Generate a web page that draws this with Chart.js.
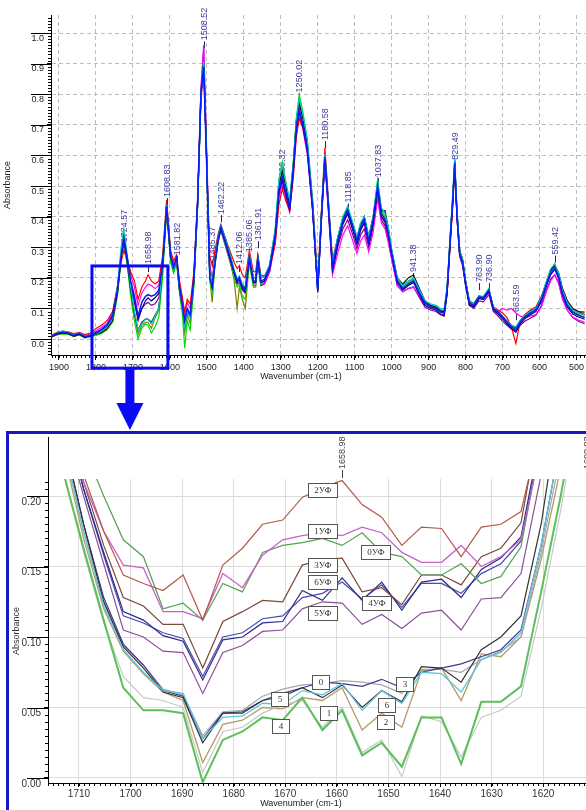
<!DOCTYPE html>
<html>
<head>
<meta charset="utf-8">
<title>FTIR spectra</title>
<script src="https://cdn.jsdelivr.net/npm/chart.js@4.4.1/dist/chart.umd.min.js"></script>
<style>
  body { margin: 0; background: #fff; width: 586px; height: 810px; overflow: hidden; position: relative; }
  #fullWrap { position: absolute; left: 0; top: 0; width: 586px; height: 432px; }
  #zoomBox { position: absolute; left: 6px; top: 431px; width: 600px; height: 400px; border: 3px solid #1818c0; }
  #zoomWrap { position: absolute; left: 0; top: 0; width: 577px; height: 376px; }
</style>
</head>
<body>
<div id="fullWrap"><canvas id="fullChart" width="586" height="432"></canvas></div>
<div id="zoomBox"><div id="zoomWrap"><canvas id="zoomChart" width="577" height="376"></canvas></div></div>
<script>
/* ===== FULL RANGE SPECTRA ===== */
const wavenumbers = [
  1922, 1905, 1890, 1875, 1860, 1845, 1830, 1815, 1800, 1785, 1770, 1755,
  1742, 1732, 1724.6, 1716, 1706, 1696, 1686, 1676, 1666, 1659, 1650, 1640,
  1630, 1620, 1608.8, 1598, 1590, 1581.8, 1574, 1566, 1560, 1553, 1545, 1535,
  1525, 1516, 1508.5, 1500, 1492, 1485.4, 1478, 1470, 1462.2, 1450, 1438, 1426,
  1418, 1412, 1404, 1396, 1385, 1374, 1368, 1362, 1354, 1344, 1330, 1315,
  1305, 1296, 1286, 1276, 1266, 1258, 1250, 1240, 1228, 1214, 1200, 1190,
  1180.6, 1172, 1160, 1146, 1132, 1119, 1105, 1094, 1084, 1074, 1062, 1050,
  1038, 1028, 1018, 1010, 1000, 985, 970, 955, 941, 925, 910, 895,
  880, 868, 858, 850, 842, 835, 829.5, 823, 816, 808, 800, 790,
  778, 764, 752, 737, 725, 712, 700, 688, 676, 664, 652, 640,
  625, 610, 595, 580, 570, 559, 548, 538, 525, 510, 495, 478
];

const specBlue = [
  0.008, 0.018, 0.022, 0.020, 0.012, 0.018, 0.008, 0.012, 0.020, 0.030, 0.045, 0.075,
  0.16, 0.27, 0.33, 0.27, 0.19, 0.14, 0.075, 0.12, 0.14, 0.145, 0.14, 0.145,
  0.16, 0.24, 0.435, 0.27, 0.235, 0.265, 0.17, 0.11, 0.06, 0.10, 0.08, 0.20,
  0.45, 0.80, 0.89, 0.55, 0.20, 0.17, 0.25, 0.32, 0.365, 0.32, 0.27, 0.22,
  0.19, 0.20, 0.17, 0.16, 0.265, 0.19, 0.19, 0.262, 0.19, 0.195, 0.235, 0.34,
  0.49, 0.53, 0.48, 0.43, 0.56, 0.69, 0.75, 0.70, 0.62, 0.43, 0.16, 0.40,
  0.595, 0.45, 0.235, 0.32, 0.385, 0.42, 0.365, 0.32, 0.365, 0.39, 0.32, 0.39,
  0.50, 0.41, 0.39, 0.35, 0.28, 0.19, 0.165, 0.18, 0.19, 0.15, 0.118, 0.105,
  0.10, 0.088, 0.085, 0.16, 0.32, 0.45, 0.575, 0.40, 0.28, 0.25, 0.183, 0.118,
  0.11, 0.137, 0.134, 0.16, 0.10, 0.088, 0.072, 0.056, 0.04, 0.03, 0.056, 0.072,
  0.085, 0.095, 0.127, 0.183, 0.215, 0.232, 0.203, 0.15, 0.11, 0.088, 0.078, 0.07
];
const specRed = [
  0.012, 0.022, 0.026, 0.024, 0.018, 0.022, 0.015, 0.020, 0.035, 0.045, 0.060, 0.09,
  0.17, 0.25, 0.29, 0.26, 0.22, 0.19, 0.13, 0.17, 0.19, 0.21, 0.19, 0.18,
  0.19, 0.27, 0.455, 0.29, 0.255, 0.275, 0.19, 0.135, 0.09, 0.13, 0.115, 0.22,
  0.45, 0.78, 0.88, 0.56, 0.27, 0.24, 0.29, 0.34, 0.375, 0.33, 0.29, 0.25,
  0.23, 0.24, 0.21, 0.20, 0.29, 0.22, 0.22, 0.275, 0.21, 0.205, 0.23, 0.31,
  0.44, 0.49, 0.45, 0.42, 0.53, 0.66, 0.72, 0.69, 0.62, 0.46, 0.19, 0.42,
  0.625, 0.47, 0.26, 0.33, 0.38, 0.41, 0.36, 0.32, 0.36, 0.38, 0.32, 0.38,
  0.49, 0.40, 0.38, 0.34, 0.28, 0.20, 0.175, 0.19, 0.195, 0.155, 0.125, 0.11,
  0.10, 0.09, 0.085, 0.15, 0.30, 0.43, 0.55, 0.40, 0.29, 0.26, 0.19, 0.125,
  0.115, 0.14, 0.137, 0.155, 0.105, 0.095, 0.085, 0.07, 0.04, -0.015, 0.06, 0.08,
  0.095, 0.105, 0.14, 0.19, 0.225, 0.245, 0.21, 0.165, 0.125, 0.10, 0.09, 0.08
];
const specMagenta = [
  0.010, 0.020, 0.024, 0.020, 0.014, 0.020, 0.012, 0.016, 0.028, 0.038, 0.052, 0.085,
  0.17, 0.28, 0.32, 0.27, 0.21, 0.17, 0.11, 0.15, 0.17, 0.18, 0.175, 0.165,
  0.175, 0.25, 0.43, 0.28, 0.245, 0.27, 0.18, 0.125, 0.08, 0.12, 0.10, 0.21,
  0.46, 0.82, 0.96, 0.60, 0.24, 0.20, 0.27, 0.33, 0.36, 0.31, 0.26, 0.21,
  0.19, 0.195, 0.17, 0.16, 0.26, 0.185, 0.185, 0.255, 0.18, 0.185, 0.22, 0.32,
  0.46, 0.51, 0.46, 0.415, 0.54, 0.67, 0.73, 0.685, 0.60, 0.42, 0.17, 0.39,
  0.58, 0.43, 0.21, 0.28, 0.34, 0.37, 0.32, 0.28, 0.32, 0.34, 0.285, 0.35,
  0.46, 0.38, 0.36, 0.32, 0.26, 0.175, 0.155, 0.165, 0.17, 0.14, 0.115, 0.105,
  0.10, 0.095, 0.09, 0.15, 0.31, 0.44, 0.565, 0.39, 0.27, 0.24, 0.175, 0.12,
  0.115, 0.135, 0.13, 0.15, 0.10, 0.09, 0.10, 0.095, 0.10, 0.085, 0.075, 0.07,
  0.075, 0.08, 0.105, 0.16, 0.19, 0.21, 0.18, 0.13, 0.095, 0.072, 0.062, 0.055
];
const specLime = [
  0.005, 0.015, 0.018, 0.016, 0.010, 0.014, 0.004, 0.008, 0.012, 0.018, 0.030, 0.055,
  0.14, 0.26, 0.33, 0.25, 0.14, 0.06, 0.0, 0.035, 0.05, 0.045, 0.02, 0.04,
  0.07, 0.20, 0.42, 0.25, 0.215, 0.25, 0.15, 0.08, -0.03, 0.06, 0.03, 0.17,
  0.43, 0.79, 0.90, 0.56, 0.19, 0.15, 0.24, 0.31, 0.36, 0.31, 0.26, 0.20,
  0.17, 0.18, 0.14, 0.13, 0.25, 0.175, 0.175, 0.25, 0.18, 0.19, 0.24, 0.36,
  0.52, 0.58, 0.51, 0.45, 0.58, 0.72, 0.80, 0.74, 0.65, 0.45, 0.17, 0.41,
  0.60, 0.46, 0.245, 0.33, 0.40, 0.43, 0.375, 0.33, 0.375, 0.40, 0.33, 0.40,
  0.52, 0.42, 0.40, 0.36, 0.29, 0.195, 0.17, 0.185, 0.195, 0.155, 0.12, 0.11,
  0.105, 0.095, 0.095, 0.17, 0.33, 0.46, 0.58, 0.41, 0.285, 0.255, 0.185, 0.12,
  0.11, 0.14, 0.137, 0.165, 0.10, 0.085, 0.07, 0.055, 0.042, 0.035, 0.06, 0.075,
  0.085, 0.095, 0.13, 0.19, 0.22, 0.24, 0.21, 0.155, 0.115, 0.09, 0.08, 0.072
];
const specBlack = [
  0.006, 0.016, 0.020, 0.018, 0.010, 0.015, 0.006, 0.010, 0.016, 0.022, 0.034, 0.06,
  0.15, 0.27, 0.34, 0.26, 0.16, 0.085, 0.03, 0.055, 0.065, 0.065, 0.055, 0.078,
  0.10, 0.23, 0.44, 0.27, 0.225, 0.26, 0.165, 0.10, 0.045, 0.09, 0.07, 0.19,
  0.44, 0.80, 0.91, 0.57, 0.21, 0.18, 0.26, 0.33, 0.37, 0.33, 0.28, 0.22,
  0.195, 0.205, 0.175, 0.165, 0.27, 0.20, 0.20, 0.27, 0.20, 0.205, 0.24, 0.35,
  0.50, 0.55, 0.50, 0.44, 0.57, 0.71, 0.77, 0.72, 0.63, 0.44, 0.16, 0.41,
  0.60, 0.455, 0.24, 0.33, 0.395, 0.425, 0.375, 0.33, 0.375, 0.40, 0.335, 0.40,
  0.50, 0.42, 0.42, 0.37, 0.29, 0.20, 0.18, 0.20, 0.21, 0.165, 0.125, 0.11,
  0.105, 0.092, 0.09, 0.16, 0.32, 0.45, 0.57, 0.41, 0.29, 0.26, 0.19, 0.125,
  0.115, 0.14, 0.138, 0.16, 0.105, 0.09, 0.075, 0.058, 0.045, 0.038, 0.06, 0.078,
  0.09, 0.10, 0.135, 0.19, 0.225, 0.24, 0.215, 0.165, 0.125, 0.10, 0.09, 0.088
];
const specPurple = [
  0.008, 0.016, 0.020, 0.018, 0.010, 0.016, 0.006, 0.010, 0.018, 0.026, 0.04, 0.07,
  0.15, 0.26, 0.31, 0.25, 0.17, 0.12, 0.06, 0.10, 0.115, 0.12, 0.11, 0.115,
  0.135, 0.22, 0.42, 0.26, 0.225, 0.255, 0.16, 0.10, 0.065, 0.095, 0.075, 0.19,
  0.44, 0.81, 0.95, 0.58, 0.20, 0.165, 0.245, 0.315, 0.355, 0.305, 0.255, 0.205,
  0.18, 0.185, 0.16, 0.15, 0.255, 0.18, 0.18, 0.25, 0.175, 0.18, 0.22, 0.325,
  0.47, 0.515, 0.465, 0.42, 0.55, 0.68, 0.74, 0.69, 0.61, 0.42, 0.16, 0.39,
  0.585, 0.44, 0.22, 0.30, 0.36, 0.39, 0.34, 0.295, 0.34, 0.36, 0.30, 0.365,
  0.47, 0.39, 0.37, 0.33, 0.265, 0.175, 0.155, 0.165, 0.17, 0.135, 0.105, 0.095,
  0.09, 0.08, 0.075, 0.145, 0.31, 0.44, 0.56, 0.39, 0.27, 0.24, 0.175, 0.11,
  0.10, 0.125, 0.122, 0.145, 0.09, 0.075, 0.058, 0.045, 0.032, 0.028, 0.045, 0.058,
  0.068, 0.078, 0.11, 0.165, 0.195, 0.21, 0.185, 0.135, 0.095, 0.07, 0.058, 0.05
];
const specCyan = [
  0.010, 0.020, 0.026, 0.022, 0.014, 0.020, 0.010, 0.014, 0.018, 0.026, 0.040, 0.07,
  0.17, 0.30, 0.36, 0.28, 0.17, 0.09, 0.03, 0.05, 0.065, 0.065, 0.05, 0.075,
  0.10, 0.24, 0.44, 0.27, 0.225, 0.26, 0.165, 0.10, 0.04, 0.09, 0.07, 0.19,
  0.44, 0.80, 0.91, 0.57, 0.21, 0.18, 0.26, 0.33, 0.37, 0.33, 0.28, 0.225,
  0.195, 0.205, 0.18, 0.17, 0.275, 0.20, 0.20, 0.27, 0.20, 0.205, 0.245, 0.36,
  0.52, 0.57, 0.51, 0.455, 0.58, 0.72, 0.79, 0.735, 0.65, 0.45, 0.17, 0.41,
  0.605, 0.46, 0.245, 0.335, 0.40, 0.435, 0.38, 0.335, 0.38, 0.40, 0.335, 0.40,
  0.52, 0.43, 0.41, 0.37, 0.295, 0.20, 0.175, 0.19, 0.20, 0.16, 0.125, 0.115,
  0.11, 0.10, 0.10, 0.17, 0.33, 0.47, 0.59, 0.415, 0.29, 0.26, 0.19, 0.125,
  0.115, 0.14, 0.14, 0.165, 0.105, 0.09, 0.075, 0.06, 0.045, 0.04, 0.062, 0.078,
  0.09, 0.10, 0.135, 0.195, 0.23, 0.245, 0.215, 0.16, 0.12, 0.095, 0.085, 0.078
];
const specOlive = [
  0.006, 0.014, 0.018, 0.016, 0.008, 0.014, 0.004, 0.008, 0.014, 0.020, 0.032, 0.058,
  0.145, 0.265, 0.33, 0.255, 0.155, 0.08, 0.015, 0.045, 0.055, 0.055, 0.035, 0.07,
  0.095, 0.22, 0.43, 0.26, 0.22, 0.255, 0.16, 0.095, 0.02, 0.08, 0.05, 0.18,
  0.43, 0.79, 0.90, 0.56, 0.20, 0.12, 0.25, 0.32, 0.36, 0.32, 0.265, 0.19,
  0.10, 0.17, 0.13, 0.10, 0.25, 0.17, 0.17, 0.25, 0.18, 0.185, 0.23, 0.345,
  0.50, 0.55, 0.495, 0.44, 0.57, 0.71, 0.78, 0.725, 0.64, 0.44, 0.15, 0.40,
  0.595, 0.45, 0.23, 0.32, 0.39, 0.425, 0.37, 0.325, 0.37, 0.395, 0.325, 0.395,
  0.51, 0.42, 0.40, 0.36, 0.285, 0.19, 0.165, 0.18, 0.19, 0.15, 0.115, 0.105,
  0.10, 0.09, 0.09, 0.16, 0.32, 0.46, 0.575, 0.405, 0.28, 0.25, 0.18, 0.115,
  0.105, 0.135, 0.132, 0.16, 0.10, 0.085, 0.07, 0.055, 0.04, 0.032, 0.058, 0.072,
  0.085, 0.095, 0.13, 0.19, 0.225, 0.245, 0.21, 0.16, 0.12, 0.095, 0.085, 0.08
];
const specNavy = [
  0.008, 0.018, 0.022, 0.020, 0.012, 0.018, 0.008, 0.012, 0.022, 0.032, 0.046, 0.078,
  0.16, 0.27, 0.325, 0.265, 0.18, 0.13, 0.068, 0.10, 0.125, 0.135, 0.125, 0.135,
  0.15, 0.235, 0.43, 0.27, 0.232, 0.262, 0.168, 0.105, 0.055, 0.095, 0.075, 0.195,
  0.445, 0.80, 0.90, 0.56, 0.205, 0.17, 0.25, 0.32, 0.36, 0.315, 0.265, 0.215,
  0.185, 0.195, 0.165, 0.155, 0.26, 0.185, 0.185, 0.258, 0.185, 0.19, 0.23, 0.335,
  0.48, 0.52, 0.47, 0.425, 0.55, 0.685, 0.745, 0.695, 0.615, 0.43, 0.155, 0.395,
  0.59, 0.445, 0.225, 0.31, 0.375, 0.41, 0.355, 0.31, 0.355, 0.38, 0.31, 0.38,
  0.49, 0.40, 0.385, 0.345, 0.275, 0.185, 0.16, 0.175, 0.185, 0.145, 0.11, 0.10,
  0.095, 0.082, 0.078, 0.15, 0.315, 0.445, 0.57, 0.395, 0.275, 0.245, 0.178, 0.112,
  0.105, 0.132, 0.13, 0.155, 0.095, 0.082, 0.066, 0.05, 0.035, 0.022, 0.05, 0.066,
  0.08, 0.09, 0.122, 0.178, 0.21, 0.228, 0.198, 0.145, 0.105, 0.082, 0.072, 0.065
];

// peak markers: wavenumber, label text, absorbance where the marker starts
const peakPositions = [1724.57, 1658.98, 1608.83, 1581.82, 1508.52, 1485.37, 1462.22, 1412.06, 1385.06, 1361.91,
  1296.32, 1250.02, 1180.58, 1118.85, 1037.83, 941.38, 829.49, 763.90, 736.90, 663.59, 559.42];
const peakTexts = ["1724.57", "1658.98", "1608.83", "1581.82", "1508.52", "1485.37", "1462.22", "1412.06", "1385.06", "1361.91",
  "1296.32", "1250.02", "1180.58", "1118.85", "1037.83", "941.38", "829.49", "763.90", "736.90", "663.59", "559.42"];
const peakTips = [0.29, 0.219, 0.438, 0.248, 0.95, 0.235, 0.382, 0.219, 0.258, 0.297,
  0.487, 0.78, 0.624, 0.42, 0.503, 0.193, 0.56, 0.16, 0.16, 0.062, 0.25];

// region expanded below: wavenumber span and absorbance span of the frame
const frameSpan = [1810.8, 1605.4];
const frameAbs = [0.239, -0.095];

/* ===== EXPANDED REGION 1716 - 1612 cm-1 ===== */
const zoomWavenumbers = [1716.8, 1712.9, 1709.1, 1705.2, 1701.4, 1697.5, 1693.7, 1689.8, 1686.0, 1682.1,
  1678.3, 1674.4, 1670.5, 1666.7, 1662.8, 1658.98, 1655.1, 1651.3, 1647.4, 1643.6,
  1639.7, 1635.9, 1632.0, 1628.2, 1624.3, 1620.4, 1616.6, 1612.7];

const uf2 = [0.33, 0.27, 0.215, 0.175, 0.144, 0.138, 0.133, 0.144, 0.112, 0.151, 0.163, 0.180, 0.183, 0.199, 0.206, 0.211, 0.194, 0.185, 0.165, 0.178, 0.177, 0.157, 0.178, 0.180, 0.189, 0.25, 0.31, 0.37];
const uf1 = [0.32, 0.26, 0.21, 0.175, 0.151, 0.149, 0.118, 0.118, 0.113, 0.145, 0.135, 0.158, 0.169, 0.172, 0.174, 0.172, 0.178, 0.174, 0.160, 0.153, 0.153, 0.165, 0.150, 0.157, 0.169, 0.235, 0.29, 0.35];
const uf0 = [0.34, 0.28, 0.235, 0.20, 0.169, 0.157, 0.120, 0.124, 0.112, 0.138, 0.132, 0.160, 0.165, 0.167, 0.170, 0.165, 0.174, 0.160, 0.157, 0.144, 0.144, 0.152, 0.138, 0.143, 0.164, 0.24, 0.30, 0.36];
const uf3 = [0.33, 0.27, 0.21, 0.165, 0.128, 0.122, 0.109, 0.109, 0.078, 0.111, 0.118, 0.126, 0.125, 0.151, 0.155, 0.156, 0.132, 0.135, 0.123, 0.144, 0.144, 0.137, 0.157, 0.163, 0.181, 0.26, 0.32, 0.38];
const uf6 = [0.32, 0.26, 0.205, 0.16, 0.118, 0.112, 0.101, 0.097, 0.0695, 0.098, 0.100, 0.110, 0.111, 0.133, 0.126, 0.142, 0.126, 0.139, 0.119, 0.139, 0.141, 0.128, 0.148, 0.156, 0.171, 0.245, 0.30, 0.36];
const uf4 = [0.32, 0.26, 0.205, 0.158, 0.115, 0.110, 0.103, 0.099, 0.072, 0.100, 0.103, 0.113, 0.115, 0.128, 0.131, 0.139, 0.127, 0.137, 0.121, 0.138, 0.138, 0.131, 0.145, 0.152, 0.168, 0.24, 0.29, 0.35];
const uf5 = [0.31, 0.25, 0.20, 0.152, 0.105, 0.100, 0.090, 0.089, 0.060, 0.089, 0.094, 0.104, 0.105, 0.120, 0.125, 0.124, 0.109, 0.116, 0.106, 0.117, 0.119, 0.105, 0.127, 0.128, 0.145, 0.215, 0.27, 0.33];

const s0 = [0.31, 0.24, 0.18, 0.128, 0.095, 0.080, 0.062, 0.058, 0.028, 0.046, 0.047, 0.055, 0.060, 0.064, 0.068, 0.067, 0.065, 0.070, 0.064, 0.075, 0.078, 0.081, 0.086, 0.091, 0.105, 0.165, 0.24, 0.32];
const s3 = [0.31, 0.24, 0.18, 0.125, 0.093, 0.078, 0.061, 0.057, 0.025, 0.046, 0.046, 0.055, 0.058, 0.064, 0.057, 0.066, 0.050, 0.062, 0.054, 0.079, 0.078, 0.068, 0.091, 0.100, 0.115, 0.18, 0.27, 0.34];
const s5 = [0.30, 0.235, 0.175, 0.125, 0.094, 0.080, 0.063, 0.059, 0.030, 0.047, 0.048, 0.058, 0.063, 0.066, 0.067, 0.069, 0.068, 0.066, 0.060, 0.077, 0.077, 0.075, 0.084, 0.090, 0.100, 0.16, 0.23, 0.31];
const s6 = [0.30, 0.235, 0.175, 0.122, 0.091, 0.075, 0.062, 0.060, 0.028, 0.043, 0.044, 0.053, 0.052, 0.062, 0.059, 0.067, 0.048, 0.062, 0.053, 0.075, 0.074, 0.061, 0.084, 0.089, 0.103, 0.165, 0.24, 0.32];
const s2 = [0.30, 0.23, 0.17, 0.12, 0.090, 0.074, 0.061, 0.055, 0.011, 0.038, 0.041, 0.050, 0.049, 0.057, 0.055, 0.064, 0.034, 0.046, 0.036, 0.076, 0.078, 0.055, 0.088, 0.086, 0.100, 0.155, 0.22, 0.30];
const s4 = [0.29, 0.215, 0.163, 0.112, 0.064, 0.048, 0.048, 0.046, -0.003, 0.027, 0.033, 0.043, 0.041, 0.057, 0.034, 0.048, 0.016, 0.025, 0.008, 0.043, 0.043, 0.010, 0.054, 0.054, 0.065, 0.132, 0.20, 0.28];
const s1 = [0.29, 0.215, 0.160, 0.11, 0.072, 0.057, 0.055, 0.050, 0.004, 0.033, 0.036, 0.046, 0.052, 0.055, 0.036, 0.050, 0.018, 0.027, 0.001, 0.044, 0.040, 0.015, 0.043, 0.048, 0.058, 0.12, 0.19, 0.27];

// sample tags: text, wavenumber and absorbance of the tag centre
const tagTexts = ["2УФ", "1УФ", "0УФ", "3УФ", "6УФ", "4УФ", "5УФ", "0", "3", "5", "6", "1", "2", "4"];
const tagWavenumbers = [1662.8, 1662.8, 1652.6, 1662.8, 1662.8, 1652.4, 1662.8, 1663.1, 1646.8, 1671.1, 1650.4, 1661.6, 1650.5, 1671.0];
const tagAbs = [0.204, 0.175, 0.160, 0.151, 0.139, 0.124, 0.117, 0.068, 0.067, 0.056, 0.052, 0.046, 0.040, 0.037];

const FONT = "'Liberation Sans', Arial, sans-serif";
Chart.defaults.font.family = FONT;
Chart.defaults.color = "#222";

function toPoints(xs, ys) {
  return xs.map((w, i) => ({ x: w, y: ys[i] }));
}

function lineSet(label, xs, ys, color, width) {
  return {
    label: label,
    data: toPoints(xs, ys),
    borderColor: color,
    backgroundColor: color,
    borderWidth: width,
    pointRadius: 0,
    tension: 0,
    fill: false
  };
}

/* ===== AXIS DECORATION (minor ticks, long major ticks, x title) ===== */
function axisDecor(name, o) {
  return {
    id: "axisDecor" + name,
    afterDraw(chart) {
      const { ctx, chartArea: a, scales: { x, y } } = chart;
      ctx.save();
      ctx.strokeStyle = "#000";
      ctx.lineWidth = 1;
      ctx.beginPath();
      for (let k = Math.ceil(x.min / o.xMinor); k * o.xMinor <= x.max; k++) {
        const px = Math.round(x.getPixelForValue(k * o.xMinor)) + 0.5;
        ctx.moveTo(px, a.bottom);
        ctx.lineTo(px, a.bottom + 3);
      }
      for (let k = Math.ceil(y.min / o.yMinor); k * o.yMinor <= y.max; k++) {
        const py = Math.round(y.getPixelForValue(k * o.yMinor)) + 0.5;
        ctx.moveTo(a.left, py);
        ctx.lineTo(a.left - 3, py);
      }
      y.ticks.forEach(t => {
        const py = Math.round(y.getPixelForValue(t.value)) + 0.5;
        ctx.moveTo(a.left - o.underline, py);
        ctx.lineTo(a.left, py);
      });
      if (o.axisTop !== undefined) {
        ctx.moveTo(Math.round(a.left) + 0.5, o.axisTop);
        ctx.lineTo(Math.round(a.left) + 0.5, a.top);
      }
      ctx.stroke();

      ctx.fillStyle = "#222";
      ctx.font = "9px " + FONT;
      ctx.textAlign = "center";
      ctx.textBaseline = "middle";
      ctx.fillText("Wavenumber (cm-1)", o.titleX, o.titleY);
      ctx.restore();
    }
  };
}

/* ===== PEAK MARKERS ===== */
const peakMarkers = {
  id: "peakMarkers",
  beforeDatasetsDraw(chart) {
    const { ctx, scales: { x, y } } = chart;
    ctx.save();
    ctx.font = "9px " + FONT;
    ctx.fillStyle = "#3a3a9c";
    ctx.strokeStyle = "#23236e";
    ctx.lineWidth = 1;
    peakPositions.forEach((wn, i) => {
      const px = Math.round(x.getPixelForValue(wn)) + 0.5;
      const py = y.getPixelForValue(peakTips[i]);
      ctx.beginPath();
      ctx.moveTo(px, py);
      ctx.lineTo(px, py - 7);
      ctx.stroke();
      ctx.save();
      ctx.translate(px, py - 8);
      ctx.rotate(-Math.PI / 2);
      ctx.textAlign = "left";
      ctx.textBaseline = "middle";
      ctx.fillText(peakTexts[i], 0, 0.5);
      ctx.restore();
    });
    ctx.restore();
  }
};

/* ===== FRAME + ARROW TO THE EXPANDED VIEW ===== */
const zoomFrame = {
  id: "zoomFrame",
  afterDraw(chart) {
    const { ctx, scales: { x, y } } = chart;
    const left = x.getPixelForValue(frameSpan[0]);
    const right = x.getPixelForValue(frameSpan[1]);
    const top = y.getPixelForValue(frameAbs[0]);
    const bottom = y.getPixelForValue(frameAbs[1]);
    const cx = (left + right) / 2;
    ctx.save();
    ctx.strokeStyle = "#0a0af5";
    ctx.lineWidth = 3;
    ctx.strokeRect(left, top, right - left, bottom - top);
    ctx.fillStyle = "#0a0af5";
    ctx.fillRect(cx - 4.5, bottom + 1, 9, 404 - bottom);
    ctx.beginPath();
    ctx.moveTo(cx - 13.5, 403);
    ctx.lineTo(cx + 13.5, 403);
    ctx.lineTo(cx, 430);
    ctx.closePath();
    ctx.fill();
    ctx.restore();
  }
};

/* ===== FULL SPECTRUM CHART ===== */
function loadFullChart() {
  const ctx = document.getElementById("fullChart");
  new Chart(ctx, {
    type: "line",
    data: {
      datasets: [
        lineSet("blue", wavenumbers, specBlue, "#0a1aff", 1.5),
        lineSet("cyan", wavenumbers, specCyan, "#00c8c8", 1.2),
        lineSet("navy", wavenumbers, specNavy, "#00008b", 1.2),
        lineSet("black", wavenumbers, specBlack, "#111111", 1.2),
        lineSet("lime", wavenumbers, specLime, "#00dd00", 1.2),
        lineSet("red", wavenumbers, specRed, "#ff0000", 1.2),
        lineSet("magenta", wavenumbers, specMagenta, "#ff00ff", 1.2),
        lineSet("purple", wavenumbers, specPurple, "#8b008b", 1.2),
        lineSet("olive", wavenumbers, specOlive, "#808000", 1.2)
      ]
    },
    options: {
      responsive: false,
      animation: false,
      layout: { padding: { top: 15, left: 0, right: 0, bottom: 47 } },
      plugins: { legend: { display: false }, tooltip: { enabled: false } },
      scales: {
        x: {
          type: "linear",
          reverse: true,
          min: 475.7,
          max: 1921.6,
          afterFit(s) { s.height = 30; },
          grid: { color: "#bdbdbd", lineWidth: 1, tickLength: 5, tickColor: "#000", tickBorderDash: [] },
          border: { display: true, color: "#000", width: 1, dash: [4, 3] },
          ticks: {
            stepSize: 100, includeBounds: false, autoSkip: false, maxRotation: 0,
            padding: 2, color: "#222", font: { size: 9 },
            callback: v => String(v)
          }
        },
        y: {
          min: -0.052,
          max: 1.059,
          afterFit(s) { s.width = 51; },
          grid: { color: "#bdbdbd", lineWidth: 1, tickLength: 4, tickColor: "#000", tickBorderDash: [] },
          border: { display: true, color: "#000", width: 1, dash: [4, 3] },
          ticks: {
            stepSize: 0.1, includeBounds: false, labelOffset: 5, padding: 3,
            color: "#222", font: { size: 9 },
            callback: v => v.toFixed(1)
          },
          title: { display: true, text: "Absorbance", color: "#222", font: { size: 9 }, padding: { top: 2, bottom: 0 } }
        }
      }
    },
    plugins: [peakMarkers, axisDecor("Full", { xMinor: 10, yMinor: 0.01, underline: 20, titleX: 301, titleY: 377 }), zoomFrame]
  });
}

/* ===== TAG BOXES + TOP MARKERS OF THE EXPANDED VIEW ===== */
const zoomTags = {
  id: "zoomTags",
  afterDatasetsDraw(chart) {
    const { ctx, chartArea: a, scales: { x, y } } = chart;
    ctx.save();
    ctx.lineWidth = 1;
    ctx.font = "9px 'Liberation Serif', 'DejaVu Serif', serif";
    ctx.textAlign = "center";
    ctx.textBaseline = "middle";
    tagTexts.forEach((t, i) => {
      const cx = x.getPixelForValue(tagWavenumbers[i]);
      const cy = y.getPixelForValue(tagAbs[i]);
      const w = Math.round(ctx.measureText(t).width) + 12;
      const h = 14;
      const bx = Math.round(cx - w / 2) + 0.5;
      const by = Math.round(cy - h / 2) + 0.5;
      ctx.fillStyle = "#fff";
      ctx.fillRect(bx, by, w, h);
      ctx.strokeStyle = "#555";
      ctx.strokeRect(bx, by, w, h);
      ctx.fillStyle = "#333";
      ctx.fillText(t, bx + w / 2, by + h / 2 + 0.5);
    });

    // peak markers above the plot area
    ctx.font = "9px " + FONT;
    ctx.fillStyle = "#444";
    ctx.strokeStyle = "#444";
    const marks = [[x.getPixelForValue(1658.98), "1658.98"], [a.right + 1, "1608.83"]];
    marks.forEach(m => {
      const px = Math.round(m[0]) + 0.5;
      ctx.beginPath();
      ctx.moveTo(px, a.top - 1);
      ctx.lineTo(px, a.top - 9);
      ctx.stroke();
      ctx.save();
      ctx.translate(px, a.top - 10);
      ctx.rotate(-Math.PI / 2);
      ctx.textAlign = "left";
      ctx.fillText(m[1], 0, 0.5);
      ctx.restore();
    });
    ctx.restore();
  }
};

/* ===== EXPANDED VIEW CHART ===== */
function loadZoomChart() {
  const ctx = document.getElementById("zoomChart");
  new Chart(ctx, {
    type: "line",
    data: {
      datasets: [
        lineSet("4", zoomWavenumbers, s4, "#5cbf5c", 2),
        lineSet("1", zoomWavenumbers, s1, "#c8c8c8", 1.2),
        lineSet("6", zoomWavenumbers, s6, "#5ec4dc", 1.3),
        lineSet("3", zoomWavenumbers, s3, "#333333", 1.2),
        lineSet("0", zoomWavenumbers, s0, "#3a3a94", 1.2),
        lineSet("5", zoomWavenumbers, s5, "#a8a8a8", 1.2),
        lineSet("2", zoomWavenumbers, s2, "#b39a68", 1.3),
        lineSet("2УФ", zoomWavenumbers, uf2, "#b5584a", 1.2),
        lineSet("1УФ", zoomWavenumbers, uf1, "#c95fc9", 1.3),
        lineSet("0УФ", zoomWavenumbers, uf0, "#55a055", 1.2),
        lineSet("3УФ", zoomWavenumbers, uf3, "#7b4b3a", 1.2),
        lineSet("6УФ", zoomWavenumbers, uf6, "#2a2a8c", 1.2),
        lineSet("4УФ", zoomWavenumbers, uf4, "#4a4ab0", 1.2),
        lineSet("5УФ", zoomWavenumbers, uf5, "#8c4f9c", 1.2)
      ]
    },
    options: {
      responsive: false,
      animation: false,
      layout: { padding: { top: 45, left: 0, right: 0, bottom: 0 } },
      plugins: { legend: { display: false }, tooltip: { enabled: false } },
      scales: {
        x: {
          type: "linear",
          reverse: true,
          min: 1611.7,
          max: 1716.0,
          afterFit(s) { s.height = 27; },
          grid: { color: "#dcdcdc", lineWidth: 1, tickLength: 4, tickColor: "#000" },
          border: { display: true, color: "#000", width: 1 },
          ticks: {
            stepSize: 10, includeBounds: false, autoSkip: false, maxRotation: 0,
            padding: 1, color: "#333", font: { size: 10 },
            callback: v => String(v)
          }
        },
        y: {
          min: -0.00355,
          max: 0.2121,
          afterFit(s) { s.width = 39; },
          grid: { color: "#dcdcdc", lineWidth: 1, tickLength: 4, tickColor: "#000" },
          border: { display: true, color: "#000", width: 1 },
          ticks: {
            stepSize: 0.05, includeBounds: false, labelOffset: 6, padding: 3,
            color: "#333", font: { size: 10 },
            callback: v => v.toFixed(2)
          },
          title: { display: true, text: "Absorbance", color: "#333", font: { size: 9 }, padding: { top: 2, bottom: 0 } }
        }
      }
    },
    plugins: [zoomTags, axisDecor("Zoom", { xMinor: 1, yMinor: 0.005, underline: 21, axisTop: 3, titleX: 292, titleY: 370 })]
  });
}

document.addEventListener("DOMContentLoaded", () => {
  loadFullChart();
  loadZoomChart();
});
</script>
</body>
</html>
